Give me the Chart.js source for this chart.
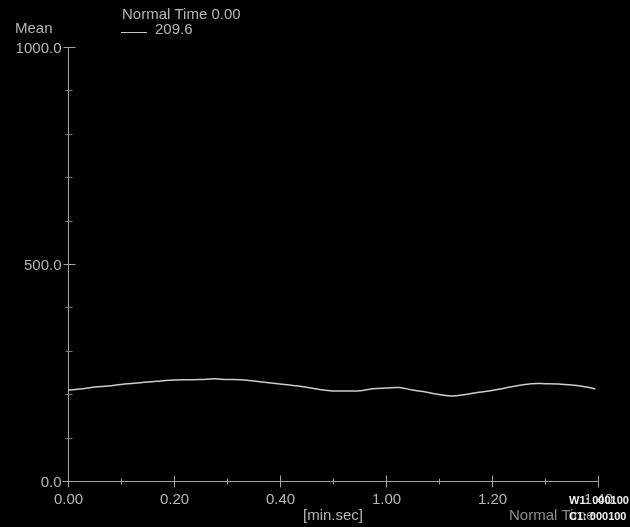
<!DOCTYPE html>
<html>
<head>
<meta charset="utf-8">
<script src="https://cdn.jsdelivr.net/npm/chart.js@4/dist/chart.umd.min.js"></script>
<style>
  html, body { margin: 0; padding: 0; background: #000; }
  #wrap { width: 630px; height: 527px; }
</style>
</head>
<body>
<div id="wrap"><canvas id="c" width="630" height="527"></canvas></div>
<script>
// Mean trace over normal time (seconds)
const timesSec = [0, 2.5, 5, 7.5, 10, 12.5, 15, 17.5, 20, 22.5, 25, 27.5, 30, 32.5, 35, 37.5, 40, 42.5, 45, 47.5,
                  50, 52.5, 55, 57.5, 60, 62.5, 65, 67.5, 70, 72.5, 75, 77.5, 80, 82.5, 85, 87.5, 90, 92.5, 95, 97.5, 99.5];
const meanValues = [209.6, 212, 216.6, 219, 222.4, 225, 228, 230.4, 232.7, 233.4, 233.9, 235.5, 233.9, 233.4, 230.4, 227, 223.5, 220, 216, 210.8,
                    207.4, 207.4, 207.8, 212.7, 214.3, 215.4, 209.7, 205, 199.3, 195.9, 199.3, 204.4, 208.5, 214.3, 220, 224.2, 224.2, 223.5, 221.2, 217.3, 212];

// Axis ticks
const xTickValues = [0, 20, 40, 60, 80, 100];
const xTickLabels = ['0.00', '0.20', '0.40', '1.00', '1.20', '1.40'];
const xMinorValues = [10, 30, 50, 70, 90];
const yTickValues = [0, 500, 1000];
const yTickLabels = ['0.0', '500.0', '1000.0'];
const yMinorValues = [100, 200, 300, 400, 600, 700, 800, 900];

const FONT = '"Liberation Sans", Arial, sans-serif';
const textColor = '#b6b6b6';
const axisColor = '#a4a4a4';

const axisPlugin = {
  id: 'axisPlugin',
  beforeDatasetsDraw(chart) {
    const { ctx, scales: { x, y } } = chart;
    const px = v => Math.round(x.getPixelForValue(v)) + 0.5;
    const py = v => Math.round(y.getPixelForValue(v)) + 0.5;
    const x0 = px(0), y0 = py(0);
    const seg = (a, b, c, d) => { ctx.beginPath(); ctx.moveTo(a, b); ctx.lineTo(c, d); ctx.stroke(); };

    ctx.save();
    ctx.strokeStyle = axisColor;
    ctx.lineWidth = 1;
    // axis lines
    seg(x0, py(1000), x0, y0 + 6);
    seg(x0 - 6, y0, px(100), y0);
    // y ticks
    yTickValues.forEach(v => { if (v > 0) seg(x0 - 5, py(v), x0 + 7, py(v)); });
    ctx.strokeStyle = '#7a7a7a';
    yMinorValues.forEach(v => seg(x0 - 3, py(v), x0 + 4, py(v)));
    // x ticks
    ctx.strokeStyle = axisColor;
    xTickValues.forEach(v => { if (v > 0) seg(px(v), y0 - 6, px(v), y0 + 6); });
    xMinorValues.forEach(v => seg(px(v), y0 - 3, px(v), y0 + 3));

    // tick labels
    ctx.fillStyle = textColor;
    ctx.font = '15px ' + FONT;
    ctx.textBaseline = 'middle';
    ctx.textAlign = 'right';
    yTickValues.forEach((v, i) => ctx.fillText(yTickLabels[i], x0 - 7, py(v) + 1));
    ctx.textAlign = 'center';
    xTickValues.forEach((v, i) => ctx.fillText(xTickLabels[i], px(v), y0 + 18));

    // axis titles
    ctx.textAlign = 'left';
    ctx.fillText('Mean', 15, 29);
    ctx.textAlign = 'center';
    ctx.fillText('[min.sec]', (x.left + x.right) / 2, y0 + 34);
    ctx.textAlign = 'left';
    ctx.fillStyle = '#8e8e8e';
    ctx.fillText('Normal Time', 509, y0 + 34);

    // legend
    ctx.fillStyle = textColor;
    ctx.fillText('Normal Time ' + xTickLabels[0], 122, 15);
    ctx.strokeStyle = '#c8c8c8';
    seg(121, 32.5, 147, 32.5);
    ctx.fillText(meanValues[0].toFixed(1), 155, 30);
    ctx.restore();
  },
  afterDraw(chart) {
    const { ctx } = chart;
    ctx.save();
    ctx.fillStyle = '#f2f2f2';
    ctx.font = 'bold 11px ' + FONT;
    ctx.textBaseline = 'middle';
    ctx.textAlign = 'left';
    ctx.fillText('W1: 000100', 569, 501);
    ctx.fillText('C1: 000100', 569, 517);
    ctx.restore();
  }
};

new Chart(document.getElementById('c'), {
  type: 'line',
  data: {
    datasets: [{
      data: timesSec.map((t, i) => ({ x: t, y: meanValues[i] })),
      borderColor: '#cdcdcd',
      borderWidth: 1.5,
      pointRadius: 0,
      tension: 0.4,
      fill: false
    }]
  },
  options: {
    responsive: false,
    animation: false,
    devicePixelRatio: 1,
    layout: { padding: { left: 68, right: 32, top: 47, bottom: 46 } },
    plugins: { legend: { display: false }, tooltip: { enabled: false } },
    scales: {
      x: { type: 'linear', min: 0, max: 100, display: false },
      y: { type: 'linear', min: 0, max: 1000, display: false }
    }
  },
  plugins: [axisPlugin]
});
</script>
</body>
</html>
